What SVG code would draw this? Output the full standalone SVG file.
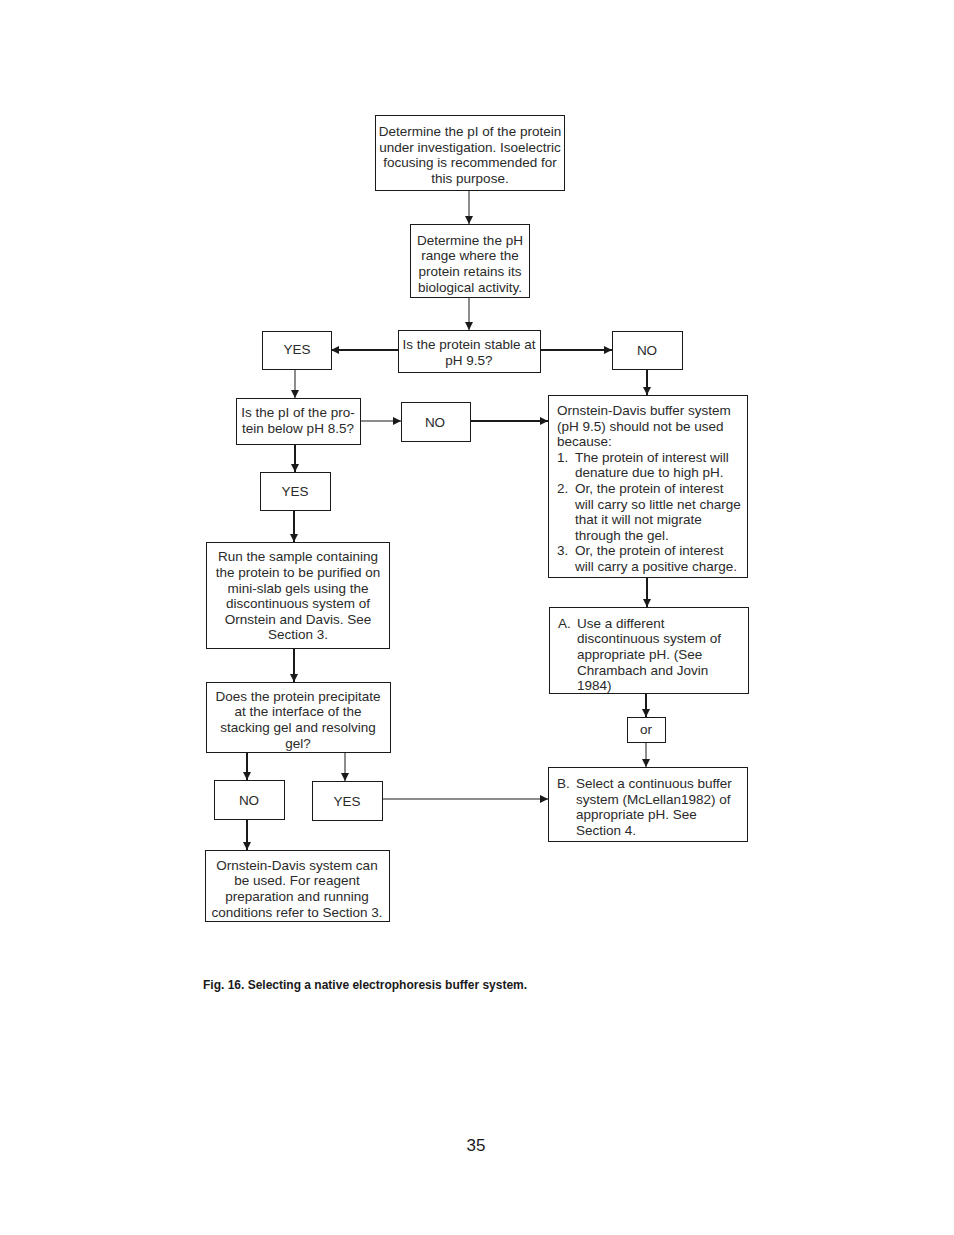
<svg xmlns="http://www.w3.org/2000/svg" width="954" height="1235" viewBox="0 0 954 1235">
<defs>
<marker id="ah" viewBox="0 0 10 10" refX="10" refY="5" markerWidth="9" markerHeight="8" markerUnits="userSpaceOnUse" orient="auto">
<path d="M0,0 L10,5 L0,10 z" fill="#1a1a1a"/>
</marker>
<style>
rect{fill:#fff;stroke:#1a1a1a;stroke-width:1}
text{font-family:"Liberation Sans",Arial,sans-serif;font-size:13.5px;fill:#2a2a2a}
.c{text-anchor:middle}
.thin{stroke:#1a1a1a;stroke-width:1;fill:none}
.thick{stroke:#1a1a1a;stroke-width:2;fill:none}
.cap{font-size:12px;font-weight:bold;fill:#1a1a1a}
.pg{font-size:17px;fill:#1a1a1a}
</style>
</defs>
<g id="connectors">
<line class="thin" x1="469" y1="190" x2="469" y2="224" marker-end="url(#ah)"/>
<line class="thin" x1="469" y1="297" x2="469" y2="330" marker-end="url(#ah)"/>
<line class="thick" x1="398" y1="350" x2="331" y2="350" marker-end="url(#ah)"/>
<line class="thick" x1="540" y1="350" x2="612" y2="350" marker-end="url(#ah)"/>
<line class="thin" x1="295" y1="369" x2="295" y2="398" marker-end="url(#ah)"/>
<line class="thin" x1="360" y1="421" x2="401" y2="421" marker-end="url(#ah)"/>
<line class="thick" x1="470" y1="421" x2="548" y2="421" marker-end="url(#ah)"/>
<line class="thick" x1="647" y1="369" x2="647" y2="395" marker-end="url(#ah)"/>
<line class="thick" x1="295" y1="444" x2="295" y2="472" marker-end="url(#ah)"/>
<line class="thick" x1="294" y1="510" x2="294" y2="542" marker-end="url(#ah)"/>
<line class="thick" x1="294" y1="648" x2="294" y2="682" marker-end="url(#ah)"/>
<line class="thick" x1="647" y1="577" x2="647" y2="607" marker-end="url(#ah)"/>
<line class="thick" x1="646" y1="693" x2="646" y2="717" marker-end="url(#ah)"/>
<line class="thin" x1="646" y1="742" x2="646" y2="767" marker-end="url(#ah)"/>
<line class="thick" x1="247" y1="752" x2="247" y2="780" marker-end="url(#ah)"/>
<line class="thin" x1="345" y1="752" x2="345" y2="781" marker-end="url(#ah)"/>
<line class="thin" x1="382" y1="799" x2="548" y2="799" marker-end="url(#ah)"/>
<line class="thick" x1="247" y1="819" x2="247" y2="850" marker-end="url(#ah)"/>
</g>
<g id="n1"><rect x="375.5" y="115.5" width="189" height="75"/>
<text class="c" x="470" y="136">Determine the pI of the protein</text>
<text class="c" x="470" y="152">under investigation. Isoelectric</text>
<text class="c" x="470" y="167">focusing is recommended for</text>
<text class="c" x="470" y="183">this purpose.</text></g>
<g id="n2"><rect x="410.5" y="224.5" width="119" height="73"/>
<text class="c" x="470" y="245">Determine the pH</text>
<text class="c" x="470" y="260">range where the</text>
<text class="c" x="470" y="276">protein retains its</text>
<text class="c" x="470" y="292">biological activity.</text></g>
<g id="n3"><rect x="398.5" y="330.5" width="142" height="42"/>
<text class="c" x="469" y="349">Is the protein stable at</text>
<text class="c" x="469" y="365">pH 9.5?</text></g>
<g id="yes1"><rect x="262.5" y="331.5" width="69" height="38"/>
<text class="c" x="297" y="354">YES</text></g>
<g id="no1"><rect x="612.5" y="331.5" width="70" height="38"/>
<text class="c" x="647" y="355">NO</text></g>
<g id="n4"><rect x="236.5" y="398.5" width="124" height="46"/>
<text class="c" x="298" y="417">Is the pI of the pro-</text>
<text class="c" x="298" y="433">tein below pH 8.5?</text></g>
<g id="no2"><rect x="401.5" y="402.5" width="69" height="39"/>
<text class="c" x="435" y="427">NO</text></g>
<g id="n5"><rect x="548.5" y="395.5" width="199" height="182"/>
<text x="557" y="415">Ornstein-Davis buffer system</text>
<text x="557" y="431">(pH 9.5) should not be used</text>
<text x="557" y="446">because:</text>
<text x="557" y="462">1.</text><text x="575" y="462">The protein of interest will</text>
<text x="575" y="477">denature due to high pH.</text>
<text x="557" y="493">2.</text><text x="575" y="493">Or, the protein of interest</text>
<text x="575" y="509">will carry so little net charge</text>
<text x="575" y="524">that it will not migrate</text>
<text x="575" y="540">through the gel.</text>
<text x="557" y="555">3.</text><text x="575" y="555">Or, the protein of interest</text>
<text x="575" y="571">will carry a positive charge.</text></g>
<g id="yes2"><rect x="260.5" y="472.5" width="70" height="38"/>
<text class="c" x="295" y="496">YES</text></g>
<g id="n6"><rect x="206.5" y="542.5" width="183" height="106"/>
<text class="c" x="298" y="561">Run the sample containing</text>
<text class="c" x="298" y="577">the protein to be purified on</text>
<text class="c" x="298" y="593">mini-slab gels using the</text>
<text class="c" x="298" y="608">discontinuous system of</text>
<text class="c" x="298" y="624">Ornstein and Davis. See</text>
<text class="c" x="298" y="639">Section 3.</text></g>
<g id="nA"><rect x="549.5" y="607.5" width="199" height="86"/>
<text x="558" y="628">A.</text><text x="577" y="628">Use a different</text>
<text x="577" y="643">discontinuous system of</text>
<text x="577" y="659">appropriate pH. (See</text>
<text x="577" y="675">Chrambach and Jovin</text>
<text x="577" y="690">1984)</text></g>
<g id="or"><rect x="627.5" y="717.5" width="38" height="25"/>
<text class="c" x="646" y="734">or</text></g>
<g id="n7"><rect x="206.5" y="682.5" width="184" height="70"/>
<text class="c" x="298" y="701">Does the protein precipitate</text>
<text class="c" x="298" y="716">at the interface of the</text>
<text class="c" x="298" y="732">stacking gel and resolving</text>
<text class="c" x="298" y="748">gel?</text></g>
<g id="no3"><rect x="214.5" y="780.5" width="70" height="39"/>
<text class="c" x="249" y="805">NO</text></g>
<g id="yes3"><rect x="312.5" y="781.5" width="70" height="39"/>
<text class="c" x="347" y="806">YES</text></g>
<g id="nB"><rect x="548.5" y="767.5" width="199" height="74"/>
<text x="557" y="788">B.</text><text x="576" y="788">Select a continuous buffer</text>
<text x="576" y="804">system (McLellan1982) of</text>
<text x="576" y="819">appropriate pH. See</text>
<text x="576" y="835">Section 4.</text></g>
<g id="n8"><rect x="205.5" y="850.5" width="184" height="71"/>
<text class="c" x="297" y="870">Ornstein-Davis system can</text>
<text class="c" x="297" y="885">be used. For reagent</text>
<text class="c" x="297" y="901">preparation and running</text>
<text class="c" x="297" y="917">conditions refer to Section 3.</text></g>
<text class="cap" x="203" y="989">Fig. 16. Selecting a native electrophoresis buffer system.</text>
<text class="pg c" x="476" y="1151">35</text>
</svg>
